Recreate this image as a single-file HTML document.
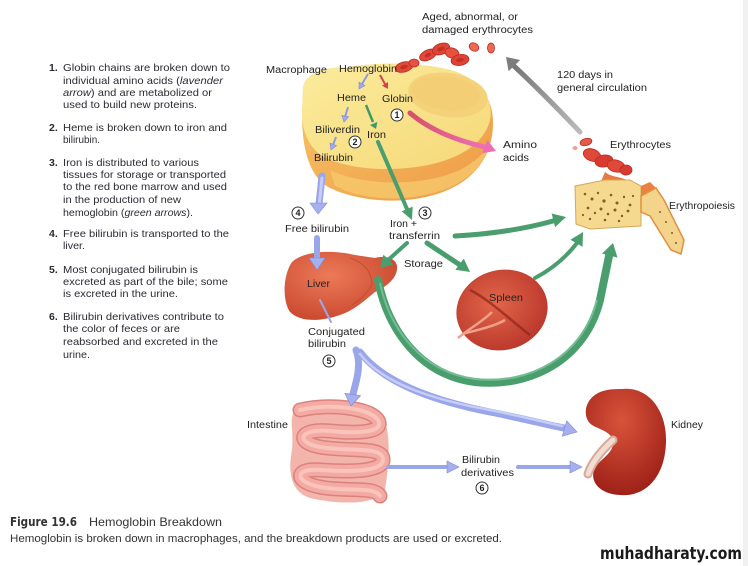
<!DOCTYPE html>
<html>
<head>
<meta charset="utf-8">
<style>
  html,body{margin:0;padding:0;background:#fff;}
  svg{display:block;}
  .t{font-family:"Liberation Sans",Arial,sans-serif;fill:#2a2a33;}
  .n{font-family:"Liberation Sans",Arial,sans-serif;fill:#2a2a33;font-weight:bold;}
  .l{font-family:"Liberation Sans",Arial,sans-serif;fill:#222;font-size:10px;}
  .c{font-family:"Liberation Sans",Arial,sans-serif;fill:#222;font-size:9px;font-weight:bold;}
</style>
</head>
<body>
<svg width="748" height="566" viewBox="0 0 748 566" xmlns="http://www.w3.org/2000/svg">
  <defs>
    <linearGradient id="gCell" x1="0" y1="0" x2="1" y2="1">
      <stop offset="0" stop-color="#fbec9c"/>
      <stop offset="1" stop-color="#f6d878"/>
    </linearGradient>
    <linearGradient id="gRim" x1="0" y1="0" x2="1" y2="1">
      <stop offset="0" stop-color="#f7c66a"/>
      <stop offset="1" stop-color="#ee9a45"/>
    </linearGradient>
    <radialGradient id="gLiver" cx="0.4" cy="0.35" r="0.7">
      <stop offset="0" stop-color="#ec7a58"/>
      <stop offset="1" stop-color="#c9472e"/>
    </radialGradient>
    <radialGradient id="gSpleen" cx="0.45" cy="0.4" r="0.65">
      <stop offset="0" stop-color="#e2664a"/>
      <stop offset="1" stop-color="#b8352a"/>
    </radialGradient>
    <radialGradient id="gKid" cx="0.45" cy="0.3" r="0.75">
      <stop offset="0" stop-color="#d9533a"/>
      <stop offset="1" stop-color="#9a1e16"/>
    </radialGradient>
    <linearGradient id="gGray" x1="1" y1="1" x2="0" y2="0">
      <stop offset="0" stop-color="#bbb"/>
      <stop offset="1" stop-color="#777"/>
    </linearGradient>
    <linearGradient id="gPink" x1="0" y1="0" x2="1" y2="0">
      <stop offset="0" stop-color="#d8506a"/>
      <stop offset="1" stop-color="#f070b8"/>
    </linearGradient>
  </defs>

  <rect width="748" height="566" fill="#fff"/>
  <rect x="743" y="0" width="5" height="566" fill="#f1f1f1"/>

  <!-- ===== Left column text ===== -->
  <g font-size="10.5">
    <text class="n" x="49" y="71">1.</text>
    <text class="t" x="63" y="71" textLength="167" lengthAdjust="spacingAndGlyphs">Globin chains are broken down to</text>
    <text class="t" x="63" y="84" textLength="160" lengthAdjust="spacingAndGlyphs">individual amino acids (<tspan font-style="italic">lavender</tspan></text>
    <text class="t" x="63" y="96" textLength="149" lengthAdjust="spacingAndGlyphs"><tspan font-style="italic">arrow</tspan>) and are metabolized or</text>
    <text class="t" x="63" y="108" textLength="134" lengthAdjust="spacingAndGlyphs">used to build new proteins.</text>

    <text class="n" x="49" y="131">2.</text>
    <text class="t" x="63" y="131" textLength="164" lengthAdjust="spacingAndGlyphs">Heme is broken down to iron and</text>
    <text class="t" x="63" y="143" textLength="37" lengthAdjust="spacingAndGlyphs">bilirubin.</text>

    <text class="n" x="49" y="166">3.</text>
    <text class="t" x="63" y="166" textLength="136" lengthAdjust="spacingAndGlyphs">Iron is distributed to various</text>
    <text class="t" x="63" y="178" textLength="163" lengthAdjust="spacingAndGlyphs">tissues for storage or transported</text>
    <text class="t" x="63" y="190" textLength="164" lengthAdjust="spacingAndGlyphs">to the red bone marrow and used</text>
    <text class="t" x="63" y="203" textLength="118" lengthAdjust="spacingAndGlyphs">in the production of new</text>
    <text class="t" x="63" y="216" textLength="130" lengthAdjust="spacingAndGlyphs">hemoglobin (<tspan font-style="italic">green arrows</tspan>).</text>

    <text class="n" x="49" y="237">4.</text>
    <text class="t" x="63" y="237" textLength="166" lengthAdjust="spacingAndGlyphs">Free bilirubin is transported to the</text>
    <text class="t" x="63" y="249" textLength="22" lengthAdjust="spacingAndGlyphs">liver.</text>

    <text class="n" x="49" y="273">5.</text>
    <text class="t" x="63" y="273" textLength="135" lengthAdjust="spacingAndGlyphs">Most conjugated bilirubin is</text>
    <text class="t" x="63" y="285" textLength="165" lengthAdjust="spacingAndGlyphs">excreted as part of the bile; some</text>
    <text class="t" x="63" y="297" textLength="115" lengthAdjust="spacingAndGlyphs">is excreted in the urine.</text>

    <text class="n" x="49" y="320">6.</text>
    <text class="t" x="63" y="320" textLength="161" lengthAdjust="spacingAndGlyphs">Bilirubin derivatives contribute to</text>
    <text class="t" x="63" y="332" textLength="117" lengthAdjust="spacingAndGlyphs">the color of feces or are</text>
    <text class="t" x="63" y="345" textLength="155" lengthAdjust="spacingAndGlyphs">reabsorbed and excreted in the</text>
    <text class="t" x="63" y="358" textLength="27" lengthAdjust="spacingAndGlyphs">urine.</text>
  </g>

  <!-- ===== Macrophage ===== -->
  <path d="M303,88 C305,72 330,66 345,68 C370,62 420,62 450,70 C480,78 494,100 493,125 C492,160 470,186 430,196 C395,205 355,200 330,188 C310,178 302,150 302,115 Z" fill="url(#gRim)"/>
  <path d="M330,170 C360,185 420,188 460,170 C478,160 488,150 490,140 C485,170 460,188 425,195 C392,202 358,198 335,186 Z" fill="#f6c86c" opacity="0.8"/>
  <path d="M303,88 C305,72 330,66 345,68 C370,62 420,62 450,70 C480,78 494,100 490,120 C485,142 462,158 428,165 C392,172 352,170 326,158 C309,150 302,130 302,115 Z" fill="url(#gCell)"/>
  <ellipse cx="448" cy="95" rx="40" ry="22" fill="#f4d27a" transform="rotate(8 448 95)"/>
  <ellipse cx="446" cy="93" rx="34" ry="17" fill="#f1cb70" opacity="0.6" transform="rotate(8 446 93)"/>

  <!-- red cells top -->
  <g stroke="#b82a22" stroke-width="0.8">
    <ellipse cx="428" cy="55" rx="9" ry="5" fill="#e4493a" transform="rotate(-25 428 55)"/>
    <ellipse cx="441" cy="49" rx="9" ry="5.5" fill="#e04436" transform="rotate(-20 441 49)"/>
    <ellipse cx="452" cy="53" rx="7" ry="5" fill="#e85040" transform="rotate(15 452 53)"/>
    <ellipse cx="460" cy="60" rx="9" ry="5.5" fill="#de4436" transform="rotate(-10 460 60)"/>
    <ellipse cx="474" cy="47" rx="5" ry="4" fill="#ec6a55" transform="rotate(30 474 47)"/>
    <ellipse cx="491" cy="48" rx="3.5" ry="5" fill="#ec6a55"/>
    <ellipse cx="404" cy="67" rx="9" ry="5" fill="#e04838" transform="rotate(-15 404 67)"/>
    <ellipse cx="414" cy="63" rx="5" ry="4" fill="#e85040"/>
  </g>
  <g fill="#b8281f" opacity="0.7">
    <ellipse cx="441" cy="49" rx="4" ry="2" transform="rotate(-20 441 49)"/>
    <ellipse cx="460" cy="60" rx="4" ry="2" transform="rotate(-10 460 60)"/>
    <ellipse cx="428" cy="55" rx="3.5" ry="2" transform="rotate(-25 428 55)"/>
    <ellipse cx="404" cy="67" rx="4" ry="2" transform="rotate(-15 404 67)"/>
  </g>

  <!-- ===== Erythrocytes & bone ===== -->
  <path d="M605,172 C612,178 622,176 630,182 L640,188 L600,184 Z" fill="#e87a40"/>
  <g stroke="#b82a22" stroke-width="0.8">
    <ellipse cx="586" cy="142" rx="6" ry="3.5" fill="#e85a48" transform="rotate(-15 586 142)"/>
    <ellipse cx="575" cy="148" rx="2.5" ry="2" fill="#f0a090" stroke="none"/>
    <ellipse cx="592" cy="155" rx="9" ry="6" fill="#e04838" transform="rotate(20 592 155)"/>
    <ellipse cx="604" cy="161" rx="9" ry="6" fill="#d83a30" transform="rotate(-10 604 161)"/>
    <ellipse cx="616" cy="166" rx="9" ry="6" fill="#e04838" transform="rotate(15 616 166)"/>
    <ellipse cx="626" cy="170" rx="6" ry="5" fill="#d83a30"/>
  </g>
  <polygon points="575,186 605,180 630,180 641,186 641,226 590,229 576,224" fill="#f5d98e" stroke="#d7a65a" stroke-width="1"/>
  <polygon points="641,186 650,182 658,190 641,205" fill="#ec8040"/>
  <polygon points="641,196 656,188 664,200 684,240 681,254 671,250 650,216 641,212" fill="#f3d48a" stroke="#e0903e" stroke-width="1.5"/>
  <g fill="#8a5a2c">
    <circle cx="585" cy="194" r="1.3"/><circle cx="592" cy="199" r="1.5"/><circle cx="598" cy="193" r="1.2"/>
    <circle cx="604" cy="201" r="1.6"/><circle cx="611" cy="195" r="1.3"/><circle cx="617" cy="203" r="1.5"/>
    <circle cx="624" cy="197" r="1.2"/><circle cx="630" cy="205" r="1.4"/><circle cx="588" cy="208" r="1.4"/>
    <circle cx="595" cy="213" r="1.2"/><circle cx="601" cy="209" r="1.5"/><circle cx="608" cy="214" r="1.3"/>
    <circle cx="615" cy="210" r="1.5"/><circle cx="622" cy="216" r="1.2"/><circle cx="628" cy="211" r="1.4"/>
    <circle cx="590" cy="219" r="1.2"/><circle cx="605" cy="220" r="1.3"/><circle cx="619" cy="221" r="1.2"/>
    <circle cx="633" cy="196" r="1.1"/><circle cx="583" cy="215" r="1.1"/>
    <circle cx="660" cy="212" r="1"/><circle cx="666" cy="222" r="1"/><circle cx="672" cy="233" r="1"/><circle cx="676" cy="243" r="1"/>
  </g>

  <!-- ===== Liver ===== -->
  <path d="M292,262 C305,250 335,250 355,255 L375,258 C385,255 396,258 397,266 C398,276 390,285 375,292 C365,300 355,310 340,315 C320,322 300,322 290,312 C282,300 283,275 292,262 Z" fill="url(#gLiver)"/>
  <path d="M350,258 C362,262 372,270 372,285 C368,292 360,300 352,305" fill="none" stroke="#b8402a" stroke-width="1" opacity="0.6"/>

  <!-- ===== Spleen ===== -->
  <ellipse cx="502" cy="310" rx="46" ry="40" fill="url(#gSpleen)" transform="rotate(-15 502 310)"/>
  <path d="M470,290 C490,300 510,320 530,335" fill="none" stroke="#8e2418" stroke-width="2.5" opacity="0.7"/>
  <path d="M458,338 C470,328 482,322 492,312 M462,334 C478,330 495,326 505,320" fill="none" stroke="#f0a08a" stroke-width="2.5"/>

  <!-- ===== Intestine ===== -->
  <path d="M296,410 C320,399 372,402 384,418 C392,440 388,470 385,490 C378,505 340,505 310,498 C290,492 288,470 292,450 C294,430 288,416 296,410 Z" fill="#f3b4ac"/>
  <g fill="none" stroke-linecap="round">
    <path d="M300,410 C330,403 370,408 378,420 C385,432 360,434 330,431 C300,428 294,442 320,447 C350,452 382,446 383,459 C384,472 350,472 320,470 C294,468 294,482 320,487 C345,492 375,486 380,496" stroke="#d9827e" stroke-width="15"/>
    <path d="M300,410 C330,403 370,408 378,420 C385,432 360,434 330,431 C300,428 294,442 320,447 C350,452 382,446 383,459 C384,472 350,472 320,470 C294,468 294,482 320,487 C345,492 375,486 380,496" stroke="#f4aaa2" stroke-width="12"/>
    <path d="M300,410 C330,403 370,408 378,420 C385,432 360,434 330,431 C300,428 294,442 320,447 C350,452 382,446 383,459 C384,472 350,472 320,470 C294,468 294,482 320,487 C345,492 375,486 380,496" stroke="#f9cfc8" stroke-width="4" opacity="0.7"/>
  </g>

  <!-- ===== Kidney ===== -->
  <path d="M622,389 C648,386 667,410 666,442 C665,478 645,497 620,495 C600,494 590,482 594,470 C598,460 612,455 613,444 C614,432 600,430 592,425 C582,418 584,400 598,393 C606,389 614,389 622,389 Z" fill="url(#gKid)"/>
  <path d="M613,440 C602,450 592,462 588,474" fill="none" stroke="#d8a898" stroke-width="9" stroke-linecap="round"/>
  <path d="M613,440 C602,450 592,462 588,474" fill="none" stroke="#f2dcd2" stroke-width="5" stroke-linecap="round"/>

  <!-- ===== Small arrows inside macrophage ===== -->
  <g stroke="#8f9ae0" stroke-width="2" fill="#b3bcf2">
    <line x1="368" y1="74" x2="362" y2="84"/>
    <line x1="348" y1="107" x2="345" y2="117"/>
    <line x1="336" y1="137" x2="333" y2="145"/>
  </g>
  <g fill="#a0aaf0" stroke="#7d8ad8" stroke-width="0.6">
    <polygon points="365,85.5 359,82.1 359,89"/>
    <polygon points="348.6,116.8 341.8,115.4 344,122"/>
    <polygon points="336.5,145.7 330,143.1 331,150"/>
  </g>
  <line x1="380" y1="75" x2="385" y2="84" stroke="#d8404a" stroke-width="2"/>
  <polygon points="388,82 382,85.6 388,89" fill="#d8404a"/>
  <line x1="366" y1="105" x2="373" y2="122" stroke="#3f9a6a" stroke-width="2.5"/>
  <polygon points="377.4,122 370,125 376,129" fill="#3f9a6a"/>

  <!-- pink arrow globin -> amino acids -->
  <path d="M410,113 C430,130 455,140 485,147" fill="none" stroke="url(#gPink)" stroke-width="5" stroke-linecap="round"/>
  <polygon points="487.4,140.1 482.2,153.1 496,151" fill="#ee6cb0"/>

  <!-- gray arrow -->
  <path d="M580,132 Q545,95 514,66" fill="none" stroke="url(#gGray)" stroke-width="5" stroke-linecap="round"/>
  <polygon points="520.2,60 508.6,71.2 506,57" fill="#7d7d7d"/>

  <!-- ===== Green arrows ===== -->
  <g fill="none" stroke="#4a9e6e" stroke-linecap="round">
    <path d="M378,142 L407,209" stroke-width="4"/>
    <path d="M455,236 Q510,233 553,221" stroke-width="5"/>
    <path d="M407,243 L387,261" stroke-width="4"/>
    <path d="M427,243 L460,265" stroke-width="5"/>
    <path d="M535,278 Q560,265 577,243" stroke-width="4"/>
    <path d="M378,280 C388,330 420,375 475,382 C530,388 585,360 600,300 L609,256" stroke-width="8"/>
  </g>
  <path d="M380,283 C390,330 422,372 475,379 C528,385 582,358 597,300" fill="none" stroke="#7cc49a" stroke-width="2" opacity="0.8"/>
  <g fill="#4a9e6e">
    <polygon points="412.7,206.6 401.7,211.4 412,220"/>
    <polygon points="555.1,227.1 551.6,213.5 566,217"/>
    <polygon points="393.4,264.4 383.5,254.6 380,268"/>
    <polygon points="463.8,258.6 455.4,269.8 470,272"/>
    <polygon points="582.6,246.8 570.4,239.8 583,232"/>
    <polygon points="617.5,257.6 602,253.6 613,243"/>
  </g>

  <!-- ===== Lavender arrows ===== -->
  <g fill="none" stroke="#9aa6ea" stroke-linecap="round">
    <path d="M322,176 L319,204" stroke-width="7"/>
    <path d="M317,238 L317,259" stroke-width="6"/>
    <path d="M320,300 L331,322" stroke-width="2"/>
    <path d="M356,350 C362,365 356,382 353,394" stroke-width="7"/>
    <path d="M360,352 C385,385 440,402 490,412 C525,419 548,425 564,428" stroke-width="7"/>
    <path d="M388,467 L448,467" stroke-width="4"/>
    <path d="M518,467 L571,467" stroke-width="4"/>
  </g>
  <g fill="none" stroke="#c7cdf7" stroke-linecap="round">
    <path d="M322,178 L319.5,202" stroke-width="3"/>
    <path d="M360,354 C385,386 440,401 490,410 C525,417 548,423 562,426" stroke-width="2.5"/>
  </g>
  <g fill="#a6b0ee" stroke="#7d8ad8" stroke-width="0.6">
    <polygon points="310,203 327,203 318,214"/>
    <polygon points="309,258 325,258 317,270"/>
    <polygon points="360.6,395.7 344.8,393.3 351,406"/>
    <polygon points="566.7,420.8 562.3,436.2 577,432"/>
    <polygon points="447,461 447,473 459,467"/>
    <polygon points="570,461 570,473 582,467"/>
  </g>

  <!-- ===== Diagram labels ===== -->
  <text class="l" x="422" y="20" textLength="96" lengthAdjust="spacingAndGlyphs">Aged, abnormal, or</text>
  <text class="l" x="422" y="33" textLength="111" lengthAdjust="spacingAndGlyphs">damaged erythrocytes</text>
  <text class="l" x="266" y="73" textLength="61" lengthAdjust="spacingAndGlyphs">Macrophage</text>
  <text class="l" x="339" y="72" textLength="58" lengthAdjust="spacingAndGlyphs">Hemoglobin</text>
  <text class="l" x="337" y="101" textLength="29" lengthAdjust="spacingAndGlyphs">Heme</text>
  <text class="l" x="382" y="102" textLength="31" lengthAdjust="spacingAndGlyphs">Globin</text>
  <text class="l" x="315" y="133" textLength="45" lengthAdjust="spacingAndGlyphs">Biliverdin</text>
  <text class="l" x="367" y="138" textLength="19" lengthAdjust="spacingAndGlyphs">Iron</text>
  <text class="l" x="314" y="161" textLength="39" lengthAdjust="spacingAndGlyphs">Bilirubin</text>
  <text class="l" x="503" y="148" textLength="34" lengthAdjust="spacingAndGlyphs">Amino</text>
  <text class="l" x="503" y="161" textLength="26" lengthAdjust="spacingAndGlyphs">acids</text>
  <text class="l" x="557" y="78" textLength="56" lengthAdjust="spacingAndGlyphs">120 days in</text>
  <text class="l" x="557" y="91" textLength="90" lengthAdjust="spacingAndGlyphs">general circulation</text>
  <text class="l" x="610" y="148" textLength="61" lengthAdjust="spacingAndGlyphs">Erythrocytes</text>
  <text class="l" x="669" y="209" textLength="66" lengthAdjust="spacingAndGlyphs">Erythropoiesis</text>
  <text class="l" x="285" y="232" textLength="64" lengthAdjust="spacingAndGlyphs">Free bilirubin</text>
  <text class="l" x="390" y="227" textLength="27" lengthAdjust="spacingAndGlyphs">Iron +</text>
  <text class="l" x="389" y="239" textLength="51" lengthAdjust="spacingAndGlyphs">transferrin</text>
  <text class="l" x="404" y="267" textLength="39" lengthAdjust="spacingAndGlyphs">Storage</text>
  <text class="l" x="307" y="287" textLength="23" lengthAdjust="spacingAndGlyphs">Liver</text>
  <text class="l" x="489" y="301" textLength="34" lengthAdjust="spacingAndGlyphs">Spleen</text>
  <text class="l" x="308" y="335" textLength="57" lengthAdjust="spacingAndGlyphs">Conjugated</text>
  <text class="l" x="308" y="347" textLength="38" lengthAdjust="spacingAndGlyphs">bilirubin</text>
  <text class="l" x="247" y="428" textLength="41" lengthAdjust="spacingAndGlyphs">Intestine</text>
  <text class="l" x="671" y="428" textLength="32" lengthAdjust="spacingAndGlyphs">Kidney</text>
  <text class="l" x="462" y="463" textLength="38" lengthAdjust="spacingAndGlyphs">Bilirubin</text>
  <text class="l" x="461" y="476" textLength="53" lengthAdjust="spacingAndGlyphs">derivatives</text>

  <!-- circled numbers -->
  <g fill="#fff" stroke="#333" stroke-width="1">
    <circle cx="397" cy="115" r="6"/>
    <circle cx="355" cy="142" r="6"/>
    <circle cx="425" cy="213" r="6"/>
    <circle cx="298" cy="213" r="6"/>
    <circle cx="329" cy="361" r="6"/>
    <circle cx="482" cy="488" r="6"/>
  </g>
  <text class="c" x="397" y="118.2" text-anchor="middle">1</text>
  <text class="c" x="355" y="145.2" text-anchor="middle">2</text>
  <text class="c" x="425" y="216.2" text-anchor="middle">3</text>
  <text class="c" x="298" y="216.2" text-anchor="middle">4</text>
  <text class="c" x="329" y="364.2" text-anchor="middle">5</text>
  <text class="c" x="482" y="491.2" text-anchor="middle">6</text>

  <!-- ===== Caption ===== -->
  <text x="10" y="526" font-family="'DejaVu Sans','Liberation Sans',sans-serif" font-weight="bold" font-size="12" fill="#333" textLength="67" lengthAdjust="spacingAndGlyphs">Figure 19.6</text>
  <text x="89" y="526" font-family="'Liberation Sans',sans-serif" font-size="12" fill="#333" textLength="133" lengthAdjust="spacingAndGlyphs">Hemoglobin Breakdown</text>
  <text x="10" y="542" font-family="'Liberation Sans',sans-serif" font-size="11" fill="#333" textLength="492" lengthAdjust="spacingAndGlyphs">Hemoglobin is broken down in macrophages, and the breakdown products are used or excreted.</text>

  <text x="600" y="559" font-family="'DejaVu Sans','Liberation Sans',sans-serif" font-weight="bold" font-size="17" fill="#1a1a1a" textLength="142" lengthAdjust="spacingAndGlyphs">muhadharaty.com</text>
</svg>
</body>
</html>
